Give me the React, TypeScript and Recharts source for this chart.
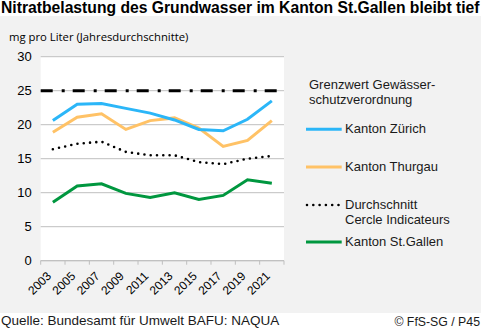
import React from "react";
import { LineChart, Line, XAxis, YAxis, CartesianGrid, ReferenceLine } from "recharts";

const years = [2003, 2005, 2007, 2009, 2011, 2013, 2015, 2017, 2019, 2021];
const yearLabels = ["2003", "2005", "2007", "2009", "2011", "2013", "2015", "2017", "2019", "2021"];
const zuerich = [20.6, 23.0, 23.1, 22.4, 21.7, 20.7, 19.3, 19.1, 20.8, 23.5];
const thurgau = [18.9, 21.1, 21.6, 19.3, 20.6, 21.0, 19.5, 16.8, 17.7, 20.6];
const durchschnitt = [16.4, 17.2, 17.5, 16.0, 15.5, 15.5, 14.5, 14.2, 15.0, 15.4];
const stgallen = [8.6, 11.0, 11.3, 9.9, 9.3, 10.0, 9.0, 9.6, 11.9, 11.4];
const grenzwert = 25;
const yTicks = [0, 5, 10, 15, 20, 25, 30];
const xTicks = [2002, 2003, 2004, 2005, 2006, 2007, 2008, 2009, 2010, 2011, 2012, 2013, 2014, 2015, 2016, 2017, 2018, 2019, 2020, 2021, 2022];

const data = years.map((y, i) => ({
  year: y,
  zuerich: zuerich[i],
  thurgau: thurgau[i],
  durchschnitt: durchschnitt[i],
  stgallen: stgallen[i],
}));

const C_ZH = "#2bb6f8";
const C_TG = "#ffc266";
const C_SG = "#00973f";
const FONT = "'Liberation Sans', Arial, sans-serif";

const XTick = (props: any) => {
  const { x, y, payload } = props;
  const v = payload.value as number;
  const idx = years.indexOf(v);
  if (idx < 0) {
    return <line x1={x} x2={x} y1={y} y2={y + 4} stroke="#bfbfbf" strokeWidth={1} />;
  }
  const ax = x - 1;
  const ay = y + 16;
  return (
    <text
      x={ax}
      y={ay}
      transform={`rotate(-45 ${ax} ${ay})`}
      textAnchor="end"
      fontSize={12}
      fontFamily={FONT}
      fill="#000"
    >
      {yearLabels[idx]}
    </text>
  );
};

const legendText: React.CSSProperties = {
  position: "absolute",
  fontFamily: FONT,
  fontSize: 13,
  lineHeight: "15px",
  color: "#1a1a1a",
  whiteSpace: "nowrap",
};

export default function App() {
  return (
    <div style={{ position: "absolute", left: 0, top: 0, width: 487, height: 328, background: "#fff", overflow: "hidden" }}>
      <div style={{ position: "absolute", left: 0, top: 16, width: 481, height: 297, background: "#f2f2f2" }} />
      <div
        style={{
          position: "absolute",
          left: 1,
          top: -1,
          fontFamily: FONT,
          fontWeight: "bold",
          fontSize: 15.7,
          color: "#000",
          whiteSpace: "nowrap",
        }}
      >
        Nitratbelastung des Grundwasser im Kanton St.Gallen bleibt tief
      </div>
      <div
        style={{
          position: "absolute",
          left: 9,
          top: 28,
          fontFamily: "'Open Sans', sans-serif",
          fontSize: 11.3,
          lineHeight: "17px",
          color: "#000",
          whiteSpace: "nowrap",
        }}
      >
        mg pro Liter (Jahresdurchschnitte)
      </div>
      <div style={{ position: "absolute", left: 0, top: 0 }}>
        <LineChart
          width={487}
          height={328}
          data={data}
          margin={{ top: 56.7, right: 203, bottom: 27.3, left: 10.7 }}
        >
          <CartesianGrid vertical={false} stroke="#bfbfbf" fill="#fff" />
          <XAxis
            dataKey="year"
            type="number"
            domain={[2002, 2022]}
            ticks={xTicks}
            interval={0}
            tick={<XTick />}
            tickLine={false}
            tickSize={0}
            tickMargin={0}
            axisLine={{ stroke: "#bfbfbf" }}
            height={40}
          />
          <YAxis
            domain={[0, 30]}
            ticks={yTicks}
            interval={0}
            axisLine={false}
            tickLine={false}
            tickSize={0}
            tickMargin={9}
            width={30}
            tick={{ fontSize: 13, fill: "#000", fontFamily: FONT }}
          />
          <ReferenceLine y={grenzwert} stroke="#000" strokeWidth={3} strokeDasharray="12 9 3 8" />
          <Line dataKey="durchschnitt" stroke="#000" strokeWidth={2.6} strokeDasharray="0 6.3" strokeLinecap="round" dot={false} isAnimationActive={false} />
          <Line dataKey="stgallen" stroke={C_SG} strokeWidth={3} dot={false} isAnimationActive={false} />
          <Line dataKey="thurgau" stroke={C_TG} strokeWidth={3} dot={false} isAnimationActive={false} />
          <Line dataKey="zuerich" stroke={C_ZH} strokeWidth={3} dot={false} isAnimationActive={false} />
        </LineChart>
      </div>

      <svg style={{ position: "absolute", left: 0, top: 0 }} width={487} height={328}>
        <line x1={306} x2={341.7} y1={129.3} y2={129.3} stroke={C_ZH} strokeWidth={3} />
        <line x1={306} x2={341.7} y1={167} y2={167} stroke={C_TG} strokeWidth={3} />
        <line x1={307} x2={340} y1={205} y2={205} stroke="#000" strokeWidth={2.6} strokeDasharray="0 6.3" strokeLinecap="round" />
        <line x1={306} x2={341.7} y1={242} y2={242} stroke={C_SG} strokeWidth={3} />
      </svg>
      <div style={{ ...legendText, left: 309, top: 77 }}>
        Grenzwert Gewässer-
        <br />
        schutzverordnung
      </div>
      <div style={{ ...legendText, left: 345, top: 121 }}>Kanton Zürich</div>
      <div style={{ ...legendText, left: 345, top: 159 }}>Kanton Thurgau</div>
      <div style={{ ...legendText, left: 345, top: 196.5 }}>
        Durchschnitt
        <br />
        Cercle Indicateurs
      </div>
      <div style={{ ...legendText, left: 345, top: 234 }}>Kanton St.Gallen</div>

      <div style={{ position: "absolute", left: 1, top: 313, fontFamily: FONT, fontSize: 13.5, lineHeight: "15px", color: "#1a1a1a", whiteSpace: "nowrap" }}>
        Quelle: Bundesamt für Umwelt BAFU: NAQUA
      </div>
      <div style={{ position: "absolute", right: 7, top: 315, fontFamily: FONT, fontSize: 12.3, lineHeight: "14px", color: "#1a1a1a", whiteSpace: "nowrap" }}>
        © FfS-SG / P45
      </div>
    </div>
  );
}
